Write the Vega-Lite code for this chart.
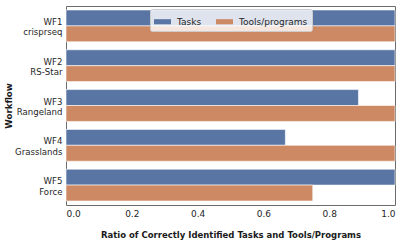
{
  "$schema": "https://vega.github.io/schema/vega-lite/v6.json",
  "autosize": "none",
  "width": 329,
  "height": 199,
  "padding": {"left": 66, "top": 6, "right": 12, "bottom": 37},
  "background": "white",
  "config": {
    "font": "DejaVu Sans",
    "view": {"stroke": "#6b6b6b", "strokeWidth": 1},
    "axis": {"domain": false, "grid": false, "ticks": false, "labelColor": "#262626", "titleColor": "#1a1a1a"}
  },
  "data": {
    "values": [
      {"wf": "WF1|crisprseq", "metric": "Tasks", "value": 1.0},
      {"wf": "WF1|crisprseq", "metric": "Tools/programs", "value": 1.0},
      {"wf": "WF2|RS-Star", "metric": "Tasks", "value": 1.0},
      {"wf": "WF2|RS-Star", "metric": "Tools/programs", "value": 1.0},
      {"wf": "WF3|Rangeland", "metric": "Tasks", "value": 0.8889},
      {"wf": "WF3|Rangeland", "metric": "Tools/programs", "value": 1.0},
      {"wf": "WF4|Grasslands", "metric": "Tasks", "value": 0.6667},
      {"wf": "WF4|Grasslands", "metric": "Tools/programs", "value": 1.0},
      {"wf": "WF5|Force", "metric": "Tasks", "value": 1.0},
      {"wf": "WF5|Force", "metric": "Tools/programs", "value": 0.75}
    ]
  },
  "mark": {"type": "bar", "stroke": "white", "strokeWidth": 0.6},
  "encoding": {
    "y": {
      "field": "wf",
      "type": "nominal",
      "sort": null,
      "scale": {"paddingInner": 0.2, "paddingOuter": 0.1},
      "axis": {
        "title": "Workflow",
        "titleFontSize": 8.6,
        "titleFontWeight": "bold",
        "titleX": -58,
        "titleBaseline": "middle",
        "titleAlign": "center",
        "labelFontSize": 8.6,
        "labelPadding": 4,
        "labelLineHeight": 10.5,
        "labelOffset": -4,
        "labelExpr": "split(datum.label, '|')"
      }
    },
    "yOffset": {
      "field": "metric",
      "type": "nominal",
      "sort": ["Tasks", "Tools/programs"],
      "scale": {"paddingInner": 0, "paddingOuter": 0}
    },
    "x": {
      "field": "value",
      "type": "quantitative",
      "scale": {"domain": [0, 1], "nice": false, "zero": true},
      "axis": {
        "title": "Ratio of Correctly Identified Tasks and Tools/Programs",
        "titleFontSize": 8.5,
        "titleFontWeight": "bold",
        "titlePadding": 12,
        "values": [0, 0.2, 0.4, 0.6, 0.8, 1.0],
        "format": ".1f",
        "labelFontSize": 9,
        "labelPadding": 4
      }
    },
    "color": {
      "field": "metric",
      "type": "nominal",
      "sort": ["Tasks", "Tools/programs"],
      "scale": {"domain": ["Tasks", "Tools/programs"], "range": ["#5975a4", "#cc8963"]},
      "legend": {
        "title": null,
        "orient": "none",
        "legendX": 84,
        "legendY": 3,
        "direction": "horizontal",
        "columns": 2,
        "columnPadding": 14,
        "fillColor": "rgba(255,255,255,0.8)",
        "strokeColor": "#cccccc",
        "cornerRadius": 2,
        "padding": 4,
        "labelFontSize": 9,
        "labelColor": "#262626",
        "labelOffset": 6,
        "symbolType": "M-1,-0.3L1,-0.3L1,0.3L-1,0.3Z",
        "symbolSize": 289,
        "symbolStrokeWidth": 0,
        "symbolOpacity": 1
      }
    }
  }
}
